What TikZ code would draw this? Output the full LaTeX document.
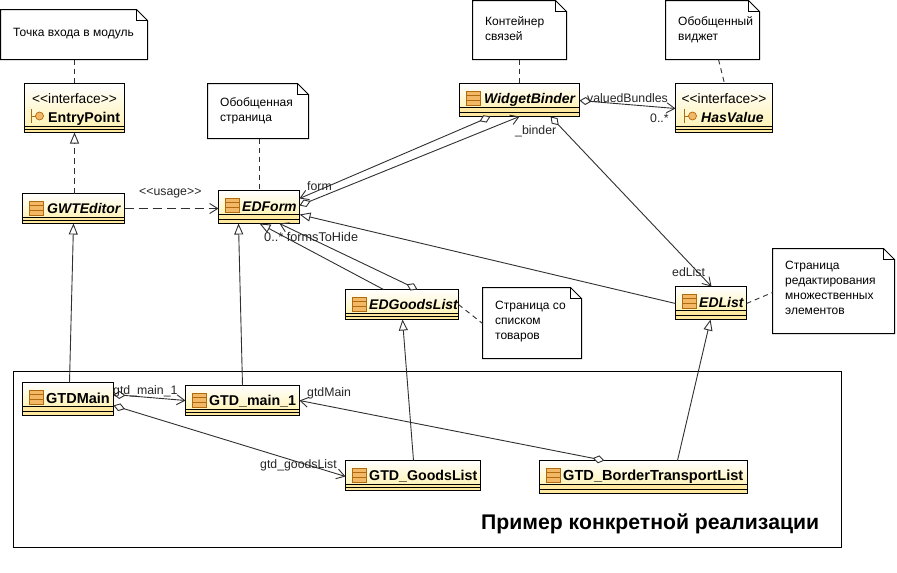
\documentclass[tikz,border=0pt]{standalone}
\usepackage{fontspec}
\setmainfont{Liberation Sans}
\usetikzlibrary{arrows.meta}
\definecolor{stripcol}{HTML}{FFE9A0}
\definecolor{classbot}{HTML}{FFF3B8}
\definecolor{iconcol}{HTML}{F2B865}
\definecolor{iconedge}{HTML}{B06A10}
\definecolor{linkcol}{HTML}{303030}
\tikzset{
  boxanchor/.style={inner sep=0pt,outer sep=0pt,minimum width=#1,anchor=north west},
  classlbl/.style={font=\fontsize{14.2}{16}\selectfont\bfseries,inner sep=0pt,anchor=base west},
  ilbl/.style={classlbl,font=\fontsize{14}{16}\selectfont\bfseries\itshape},
  stereolbl/.style={font=\fontsize{13.7}{15}\selectfont,inner sep=0pt,anchor=base},
  notelbl/.style={font=\fontsize{12}{15}\selectfont,inner sep=0pt,anchor=north west,align=left},
  linklbl/.style={font=\fontsize{12.3}{14}\selectfont,inner sep=0pt,anchor=base west,text=black!85},
  link/.style={draw=linkcol,line width=.9pt},
  notelink/.style={link,dash pattern=on 5pt off 4pt},
  gen/.style={link,-{Triangle[open,fill=white,length=11pt,width=9pt]}},
  real/.style={gen,dash pattern=on 6pt off 4pt},
  usedep/.style={link,dash pattern=on 9pt off 5pt,-{Straight Barb[length=8pt,width=10pt]}},
  aggr/.style={link,{Diamond[open,fill=white,length=12pt,width=8pt]}-{Straight Barb[length=8pt,width=10pt]}},
}
% name x1 y1 x2 y2 stripheight
\newcommand{\umlbox}[6]{%
  \pgfmathsetmacro{\bw}{#4-#2}\pgfmathsetmacro{\bh}{#5-#3}\pgfmathsetmacro{\sy}{#5-#6}%
  \shade[top color=white,bottom color=classbot,shading angle=0] (#2,#3) rectangle (#4,\sy);
  \fill[stripcol] (#2,\sy) rectangle (#4,#5);
  \node[draw=black,line width=1pt,boxanchor=\bw pt,minimum height=\bh pt] (#1) at (#2,#3) {};
  \draw[line width=1pt] (#2,\sy) -- (#4,\sy);
  \pgfmathsetmacro{\syb}{#5-#6/2}%
  \draw[line width=1pt] (#2,\syb) -- (#4,\syb);
}
% x y : top-left of class icon
\newcommand{\classicon}[2]{%
  \fill[iconcol,draw=iconedge,line width=.8pt] (#1,#2) rectangle ++(14,14);
  \draw[iconedge,line width=.8pt] (#1,#2+4.7) -- ++(14,0) (#1,#2+9.3) -- ++(14,0);
}
% x y : position of the vertical bar centre
\newcommand{\ifaceicon}[2]{%
  \draw[iconedge,line width=.9pt] (#1,#2-7) -- ++(0,14) (#1,#2) -- ++(4,0);
  \fill[iconcol,draw=iconedge,line width=.7pt] (#1+8,#2) circle (4);
}
% name x1 y1 x2 y2 fold
\newcommand{\notebox}[6]{%
  \pgfmathsetmacro{\bw}{#4-#2}\pgfmathsetmacro{\bh}{#5-#3}%
  \node[boxanchor=\bw pt,minimum height=\bh pt] (#1) at (#2,#3) {};
  \draw[fill=white,line width=1pt,line join=miter]
    (#1.north west) -- ([xshift=-#6 pt]#1.north east) -- ([yshift=-#6 pt]#1.north east)
    -- (#1.south east) -- (#1.south west) -- cycle;
  \draw[line width=.8pt] ([xshift=-#6 pt]#1.north east) -- ([xshift=-#6 pt,yshift=-#6 pt]#1.north east) -- ([yshift=-#6 pt]#1.north east);
}
\begin{document}
\begin{tikzpicture}[x=1pt,y=-1pt]
\useasboundingbox (0,0) rectangle (897,573);
\fill[white] (0,0) rectangle (897,573);

% frame
\node[draw=black,line width=1pt,boxanchor=828pt,minimum height=176pt] (frame) at (13,371) {};
\node[font=\fontsize{21.2}{24}\selectfont\bfseries,inner sep=0pt,anchor=base west] (frametitle) at (481,529) {Пример конкретной реализации};

% notes
\notebox{nentry}{0.5}{9.5}{147.5}{59.5}{11}
\node[notelbl] (nentryt) at (13,28) {Точка входа в модуль};
\notebox{nform}{207.5}{83.5}{308.5}{138.5}{11}
\node[notelbl] (nformt) at (220,97) {Обобщенная\\страница};
\notebox{nbind}{472.5}{0.5}{566.5}{59.5}{11}
\node[notelbl] (nbindt) at (485,16) {Контейнер\\связей};
\notebox{nval}{665.5}{0.5}{759.5}{59.5}{11}
\node[notelbl] (nvalt) at (678,16) {Обобщенный\\виджет};
\notebox{ngoods}{482.5}{287.5}{581.5}{358.5}{11}
\node[notelbl] (ngoodst) at (495,301) {Страница со\\списком\\товаров};
\notebox{nlist}{772.5}{248.5}{894.5}{333.5}{11}
\node[notelbl] (nlistt) at (785,261) {Страница\\редактирования\\множественных\\элементов};

% classes
\umlbox{entry}{24.5}{83.5}{124.5}{132.5}{6}
\node[stereolbl] (entryst) at (74.5,103) {<{}<interface>{}>};
\ifaceicon{31.5}{116}
\node[classlbl] (entryt) at (48,122) {EntryPoint};
\umlbox{gwt}{22.5}{193.5}{124.5}{223.5}{6}
\classicon{29}{201}
\node[ilbl] (gwtt) at (47,213) {GWTEditor};
\umlbox{edform}{218.5}{190.5}{299.5}{223.5}{9}
\classicon{225}{198}
\node[ilbl] (edformt) at (242,211) {EDForm};
\umlbox{binder}{459.5}{83.5}{579.5}{116.5}{9}
\classicon{466}{91}
\node[ilbl] (bindert) at (484,103) {WidgetBinder};
\umlbox{hasval}{675.5}{83.5}{772.5}{132.5}{6}
\node[stereolbl] (hasvalst) at (724,103) {<{}<interface>{}>};
\ifaceicon{684.5}{116}
\node[ilbl] (hasvalt) at (701,122) {HasValue};
\umlbox{goods}{345.5}{289.5}{458.5}{319.5}{6}
\classicon{352}{297}
\node[ilbl] (goodst) at (369,309) {EDGoodsList};
\umlbox{edlist}{675.5}{286.5}{746.5}{319.5}{9}
\classicon{682}{294}
\node[ilbl] (edlistt) at (699,307) {EDList};
\umlbox{main}{22.5}{382.5}{113.5}{415.5}{9}
\classicon{29}{390}
\node[classlbl,font=\fontsize{14.5}{16}\selectfont\bfseries] (maint) at (46,403) {GTDMain};
\umlbox{mainone}{185.5}{385.5}{299.5}{415.5}{6}
\classicon{192}{393}
\node[classlbl] (mainonet) at (209,405) {GTD\_main\_1};
\umlbox{glist}{345.5}{460.5}{480.5}{490.5}{6}
\classicon{352}{468}
\node[classlbl] (glistt) at (369,480) {GTD\_GoodsList};
\umlbox{border}{539.5}{460.5}{747.5}{493.5}{9}
\classicon{546}{468}
\node[classlbl,font=\fontsize{14.6}{16}\selectfont\bfseries] (bordert) at (563,480) {GTD\_BorderTransportList};

% note links
\draw[notelink] ([xshift=74pt]nentry.south west) -- ([xshift=50pt]entry.north west);
\draw[notelink] ([xshift=52pt]nform.south west) -- ([xshift=41pt]edform.north west);
\draw[notelink] ([xshift=47pt]nbind.south west) -- ([xshift=60pt]binder.north west);
\draw[notelink] ([xshift=53pt]nval.south west) -- ([xshift=49pt]hasval.north west);
\draw[notelink] ([yshift=15pt]goods.south east) -- ([yshift=35pt]ngoods.south west);
\draw[notelink] ([yshift=16pt]edlist.south east) -- ([yshift=41pt]nlist.south west);

% generalisation / realisation
\draw[real] ([xshift=52pt]gwt.north west) -- ([xshift=50pt]entry.south west);
\draw[gen] ([xshift=47pt]main.north west) -- ([xshift=51pt]gwt.south west);
\draw[gen] ([xshift=57pt]mainone.north west) -- ([xshift=20pt]edform.south west);
\draw[gen] ([xshift=68pt]glist.north west) -- ([xshift=57pt]goods.south west);
\draw[gen] ([xshift=138pt]border.north west) -- ([xshift=35pt]edlist.south west);
\draw[gen] ([yshift=-17pt]edlist.north west) -- ([yshift=9pt]edform.south east);
\draw[gen] ([xshift=38pt]goods.north west) -- ([xshift=41pt]edform.south west);

% dependency
\draw[usedep] ([yshift=15pt]gwt.south east) -- ([yshift=15pt]edform.south west);
\node[linklbl] (usagel) at (139,195) {<{}<usage>{}>};

% associations
\draw[aggr] ([xshift=31pt]binder.south west) -- ([yshift=-8pt]edform.north east);
\draw[aggr] ([yshift=-15pt]edform.north east) -- ([xshift=60pt]binder.south west);
\draw[aggr] ([xshift=91pt]binder.south west) -- ([xshift=36pt]edlist.north west);
\draw[aggr] ([yshift=16pt]binder.south east) -- ([yshift=-25pt]hasval.north west);
\draw[aggr] ([xshift=72pt]goods.north west) -- ([xshift=61pt]edform.south west);
\draw[aggr] ([yshift=-12pt]main.north east) -- ([yshift=-15pt]mainone.north west);
\draw[aggr] ([yshift=-23pt]main.north east) -- ([yshift=-16pt]glist.north west);
\draw[aggr] ([xshift=65pt]border.north west) -- ([yshift=-15pt]mainone.north east);

% link labels
\node[linklbl] (forml) at (307,190) {form};
\node[linklbl,font=\fontsize{12.7}{14}\selectfont] (ftohl) at (264,241) {0..* formsToHide};
\node[linklbl] (binderl) at (515,134) {\_binder};
\node[linklbl] (vall) at (587,102) {valuedBundles};
\node[linklbl] (valm) at (650,122) {0..*};
\node[linklbl] (edl) at (672,276) {edList};
\node[linklbl] (m1l) at (113,394) {gtd\_main\_1};
\node[linklbl] (gml) at (307,396) {gtdMain};
\node[linklbl] (gll) at (260,468) {gtd\_goodsList};
\end{tikzpicture}
\end{document}
